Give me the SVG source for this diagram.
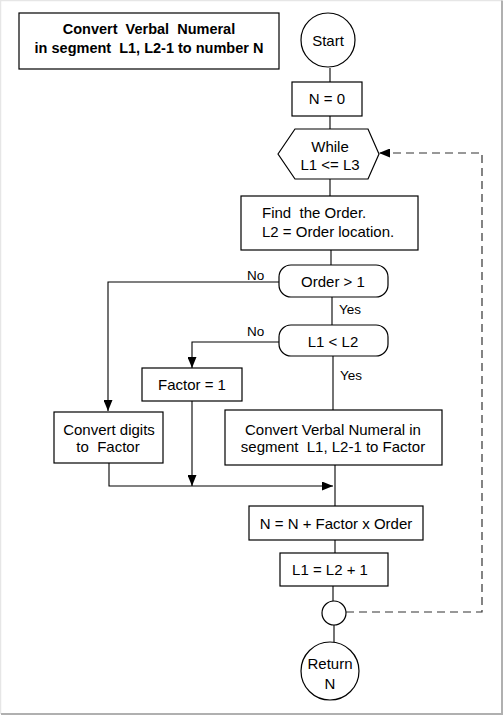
<svg xmlns="http://www.w3.org/2000/svg" width="503" height="715" viewBox="0 0 503 715">
<defs>
<marker id="ah" viewBox="0 0 10 10" refX="10" refY="5" markerWidth="11" markerHeight="9" markerUnits="userSpaceOnUse" orient="auto" preserveAspectRatio="none">
<path d="M0,0 L10,5 L0,10 z" fill="#000"/>
</marker>
<style>
.s{fill:#fff;stroke:#000;stroke-width:1.2}
.t{font-family:"Liberation Sans",Arial,sans-serif;font-size:15px;fill:#000;text-anchor:middle;white-space:pre}
.l{text-anchor:start}
.c{fill:none;stroke:#000;stroke-width:1.1}
.d{fill:none;stroke:#333;stroke-width:1.2;stroke-dasharray:8,5}
.lb{font-family:"Liberation Sans",Arial,sans-serif;font-size:13.5px;fill:#000}
</style>
</defs>
<rect width="503" height="715" fill="#fff"/>
<path d="M0.5,714 V0.5 H502" fill="none" stroke="#e6e6e6" stroke-width="1.5"/>
<path d="M1,714 H502 V0.5" fill="none" stroke="#b0b0b0" stroke-width="2"/>

<g id="connectors">
<line class="c" x1="330" y1="68" x2="330" y2="82"/>
<line class="c" x1="330" y1="116" x2="330" y2="129"/>
<line class="c" x1="330" y1="179" x2="330" y2="196"/>
<line class="c" x1="331" y1="250" x2="331" y2="265"/>
<line class="c" x1="332" y1="297" x2="332" y2="325"/>
<line class="c" x1="333" y1="356" x2="333" y2="410"/>
<polyline class="c" points="279,282 108,282 108,411" marker-end="url(#ah)"/>
<polyline class="c" points="279,342 192,342 192,368" marker-end="url(#ah)"/>
<line class="c" x1="192" y1="401" x2="192" y2="486" marker-end="url(#ah)"/>
<polyline class="c" points="109,463 109,486 333,486" marker-end="url(#ah)"/>
<line class="c" x1="335" y1="465" x2="335" y2="506"/>
<line class="c" x1="335" y1="540" x2="335" y2="553"/>
<line class="c" x1="333" y1="586" x2="333" y2="601"/>
<line class="c" x1="334" y1="625" x2="334" y2="642"/>
<polyline class="d" points="346,612 482,612 482,153 379,153" marker-end="url(#ah)"/>
<text class="lb" x="247" y="280">No</text>
<text class="lb" x="339" y="314">Yes</text>
<text class="lb" x="247" y="336">No</text>
<text class="lb" x="340" y="380">Yes</text>
</g>

<g id="title">
<rect class="s" x="19" y="13" width="260" height="56" stroke-width="1.6"/>
<text class="t" x="149" y="34" font-weight="bold" style="font-size:14.5px">Convert  Verbal  Numeral</text>
<text class="t" x="149" y="53" font-weight="bold" style="font-size:14.5px">in segment  L1, L2-1 to number N</text>
</g>

<g id="start">
<circle class="s" cx="328" cy="40" r="27"/>
<text class="t" x="328" y="46">Start</text>
</g>

<g id="n0">
<rect class="s" x="292" y="82" width="70" height="34"/>
<text class="t" x="327" y="104">N = 0</text>
</g>

<g id="while">
<polygon class="s" points="278,154 295,129 368,129 379,154 368,179 295,179"/>
<text class="t" x="330" y="152">While</text>
<text class="t" x="330" y="170">L1 &lt;= L3</text>
</g>

<g id="find">
<rect class="s" x="241" y="196" width="177" height="54"/>
<text class="t l" x="262" y="218">Find  the Order.</text>
<text class="t l" x="262" y="237">L2 = Order location.</text>
</g>

<g id="order">
<rect class="s" x="279" y="265" width="109" height="32" rx="12"/>
<text class="t" x="333" y="287">Order &gt; 1</text>
</g>

<g id="l1l2">
<rect class="s" x="279" y="325" width="109" height="31" rx="12"/>
<text class="t" x="333" y="347">L1 &lt; L2</text>
</g>

<g id="factor1">
<rect class="s" x="142" y="368" width="100" height="33"/>
<text class="t" x="192" y="390">Factor = 1</text>
</g>

<g id="digits">
<rect class="s" x="54" y="412" width="109" height="51"/>
<text class="t" x="109" y="435">Convert digits</text>
<text class="t" x="108" y="452">to  Factor</text>
</g>

<g id="verbal">
<rect class="s" x="225" y="410" width="217" height="55" stroke-width="2.2"/>
<text class="t" x="333" y="435">Convert Verbal Numeral in</text>
<text class="t" x="333" y="452">segment  L1, L2-1 to Factor</text>
</g>

<g id="nsum">
<rect class="s" x="249" y="506" width="174" height="34"/>
<text class="t" x="336" y="529">N = N + Factor x Order</text>
</g>

<g id="l1inc">
<rect class="s" x="280" y="553" width="108" height="33"/>
<text class="t" x="330" y="575">L1 = L2 + 1</text>
</g>

<g id="join">
<circle class="s" cx="334" cy="613" r="12"/>
</g>

<g id="return">
<circle class="s" cx="330" cy="671" r="29"/>
<text class="t" x="330" y="669">Return</text>
<text class="t" x="330" y="689">N</text>
</g>
</svg>
